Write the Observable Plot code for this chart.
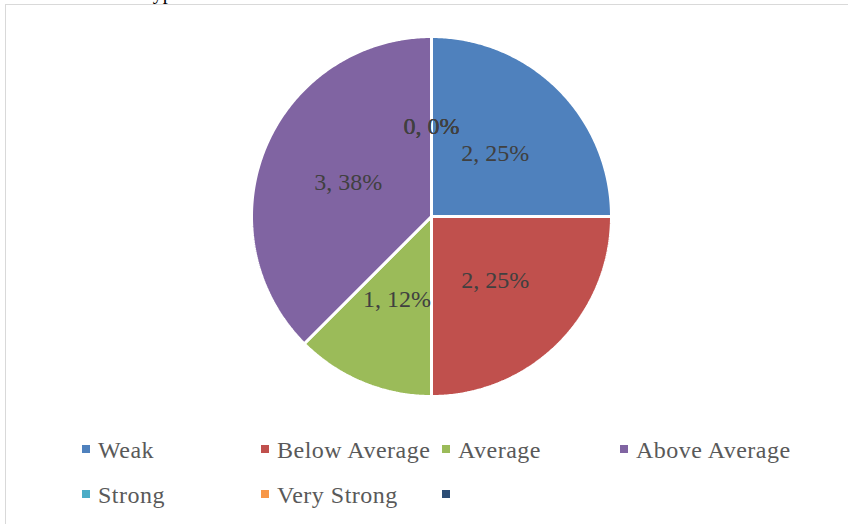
<!DOCTYPE html>
<html><head><meta charset="utf-8">
<script src="https://cdn.jsdelivr.net/npm/d3@7"></script>
<script src="https://cdn.jsdelivr.net/npm/@observablehq/plot@0.6"></script>
<style>
body{margin:0;background:#fff;}
#wrap{position:relative;width:848px;height:524px;overflow:hidden;font-family:"Liberation Serif",serif;background:#fff;}
#frame{position:absolute;left:5px;top:4px;width:900px;height:600px;border:1px solid #d9d9d9;box-sizing:border-box;}
#top{position:absolute;left:142px;top:-19px;font-size:20px;color:#000;white-space:nowrap;}
#chart{position:absolute;left:0;top:0;}
.lg{position:absolute;font-size:24px;letter-spacing:0.5px;color:#595959;white-space:nowrap;line-height:1;}
.sw{position:absolute;width:8px;height:8px;}
</style>
</head><body>
<div id="wrap">
  <div id="frame"></div>
  <div id="top">Type</div>
  <div id="chart"></div>
  <div id="legend"></div>
</div>
<script>
const categories = ["Weak", "Below Average", "Average", "Above Average", "Strong", "Very Strong", ""];
const values = [2, 2, 1, 3, 0, 0, 0];
const percentLabels = ["25%", "25%", "12%", "38%", "0%", "0%", "0%"];
const colors = ["#4F81BD", "#C0504D", "#9BBB59", "#8064A2", "#4BACC6", "#F79646", "#2C4D75"];

const keys = categories.map((c, i) => "s" + i);
const data = categories.map((c, i) => ({key: keys[i], name: c, value: values[i], pct: percentLabels[i]}));
const arcs = d3.pie().sort(null).value(d => d.value)(data);

// slice outlines in unit-circle coordinates (angle 0 at 12 o'clock, clockwise)
const poly = [];
arcs.forEach(a => {
  if (a.endAngle - a.startAngle <= 0) return;
  poly.push({key: a.data.key, x: 0, y: 0});
  const n = Math.max(8, Math.ceil((a.endAngle - a.startAngle) / 0.01));
  for (let k = 0; k <= n; k++) {
    const t = a.startAngle + (a.endAngle - a.startAngle) * k / n;
    poly.push({key: a.data.key, x: Math.sin(t), y: Math.cos(t)});
  }
});
const labels = arcs.map(a => {
  const m = (a.startAngle + a.endAngle) / 2;
  return {x: 0.5 * Math.sin(m), y: 0.5 * Math.cos(m), text: `${a.data.value}, ${a.data.pct}`};
});

const plot = Plot.plot({
  width: 848, height: 420,
  style: {background: "transparent", overflow: "visible"},
  x: {domain: [-1, 1], range: [251, 611], axis: null},
  y: {domain: [-1, 1], range: [396, 36], axis: null},
  color: {domain: keys, range: colors},
  marks: [
    Plot.line(poly, {x: "x", y: "y", z: "key", fill: "key", stroke: "#fff", strokeWidth: 3, strokeLinejoin: "miter", curve: "linear-closed"}),
    Plot.text(labels, {x: "x", y: "y", text: "text", fill: "#404040", fontSize: 24, fontFamily: "Liberation Serif", textAnchor: "middle", lineAnchor: "middle", style: "letter-spacing:0.4px"})
  ]
});
document.getElementById("chart").appendChild(plot);

// legend
const colX = [82, 261, 442, 620];
const rowY = [445, 490];
const legend = document.getElementById("legend");
categories.forEach((c, i) => {
  const col = i % 4, row = Math.floor(i / 4);
  const sw = document.createElement("div");
  sw.className = "sw";
  sw.style.left = colX[col] + "px";
  sw.style.top = rowY[row] + "px";
  sw.style.background = colors[i];
  legend.appendChild(sw);
  if (c) {
    const t = document.createElement("div");
    t.className = "lg";
    t.textContent = c;
    t.style.left = (colX[col] + 16) + "px";
    t.style.top = (rowY[row] - 7) + "px";
    legend.appendChild(t);
  }
});
</script>
</body></html>
